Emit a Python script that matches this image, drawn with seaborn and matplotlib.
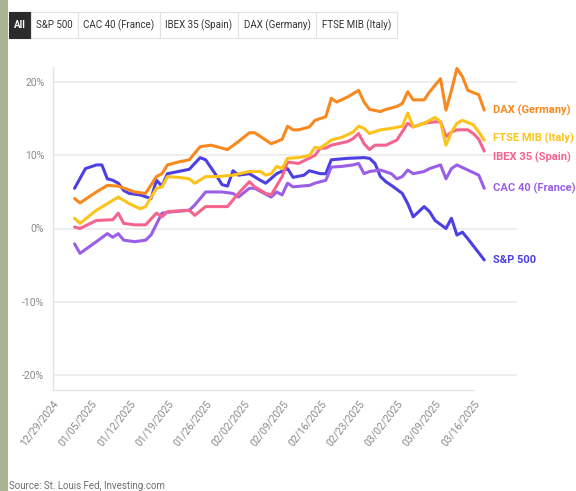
import numpy as np
import pandas as pd
import seaborn as sns
import matplotlib.pyplot as plt
import matplotlib.dates as mdates
from matplotlib.patches import Rectangle

# YTD change in % (dates are 2025, MM-DD)
sp500_dates = ['01-02', '01-04', '01-06', '01-07', '01-08', '01-09', '01-10', '01-11', '01-12', '01-14',
               '01-16', '01-17', '01-18', '01-19', '01-21', '01-23', '01-25', '01-26', '01-28', '01-29',
               '01-30', '01-31', '02-01', '02-03', '02-05', '02-06', '02-08', '02-10', '02-11', '02-13',
               '02-14', '02-16', '02-17', '02-18', '02-21', '02-24', '02-25', '02-26', '02-27', '02-28',
               '03-01', '03-03', '03-04', '03-05', '03-07', '03-08', '03-09', '03-11', '03-12', '03-13',
               '03-14', '03-15', '03-18']
sp500 = [5.5, 8.2, 8.7, 8.7, 6.8, 6.6, 6.2, 5.2, 4.8, 4.6,
         4.1, 6.6, 5.8, 7.5, 7.8, 8.1, 9.7, 9.4, 7.2, 6.0,
         5.8, 7.9, 7.3, 7.5, 6.6, 6.2, 7.5, 8.2, 7.0, 7.3,
         7.9, 7.5, 7.5, 9.4, 9.6, 9.7, 9.6, 8.9, 7.1, 6.4,
         5.9, 4.8, 3.4, 1.6, 3.0, 2.3, 1.1, 0.0, 1.4, -0.9,
         -0.5, -1.4, -4.3]

dax_dates = ['01-02', '01-03', '01-06', '01-08', '01-10', '01-13', '01-15', '01-17', '01-18', '01-19',
             '01-21', '01-23', '01-25', '01-27', '01-30', '02-01', '02-03', '02-04', '02-07', '02-09',
             '02-10', '02-11', '02-12', '02-14', '02-15', '02-17', '02-18', '02-19', '02-21', '02-23',
             '02-24', '02-25', '02-27', '02-28', '03-02', '03-03', '03-04', '03-05', '03-07', '03-08',
             '03-10', '03-11', '03-12', '03-13', '03-14', '03-15', '03-17', '03-18']
dax = [4.1, 3.5, 5.0, 5.9, 5.8, 5.0, 4.8, 7.1, 7.5, 8.7,
       9.1, 9.4, 11.2, 11.4, 10.8, 11.9, 13.1, 13.1, 11.6, 12.2,
       14.0, 13.5, 13.5, 13.9, 14.8, 15.3, 17.8, 17.3, 18.0, 18.9,
       17.3, 16.3, 16.0, 16.3, 16.7, 17.1, 18.7, 17.6, 17.6, 18.7,
       20.5, 16.2, 18.9, 21.9, 20.8, 18.9, 18.3, 16.2]

ftse_dates = ['01-02', '01-03', '01-06', '01-08', '01-10', '01-12', '01-14', '01-15', '01-17', '01-18',
              '01-19', '01-21', '01-23', '01-24', '01-26', '01-28', '01-31', '02-03', '02-05', '02-06',
              '02-07', '02-08', '02-09', '02-10', '02-12', '02-14', '02-15', '02-16', '02-18', '02-20',
              '02-22', '02-23', '02-24', '02-25', '02-27', '03-01', '03-03', '03-04', '03-05', '03-07',
              '03-09', '03-10', '03-11', '03-12', '03-13', '03-14', '03-16', '03-17', '03-18']
ftse = [1.4, 0.7, 2.5, 3.4, 4.3, 3.4, 2.7, 3.0, 5.5, 5.7,
        7.1, 7.0, 6.8, 6.2, 7.1, 7.1, 7.3, 7.8, 7.8, 7.3,
        7.5, 8.5, 8.2, 9.6, 9.7, 10.0, 11.1, 11.0, 12.1, 12.5,
        13.2, 14.0, 13.7, 13.0, 13.5, 13.7, 14.0, 15.8, 13.9, 14.4,
        15.2, 14.6, 11.4, 13.2, 14.4, 14.8, 14.2, 13.2, 12.1]

ibex_dates = ['01-02', '01-03', '01-06', '01-09', '01-10', '01-11', '01-13', '01-15', '01-17', '01-18',
              '01-19', '01-21', '01-23', '01-24', '01-26', '01-28', '01-30', '02-01', '02-03', '02-04',
              '02-06', '02-07', '02-09', '02-10', '02-12', '02-15', '02-16', '02-17', '02-18', '02-21',
              '02-22', '02-23', '02-24', '02-25', '02-26', '02-28', '03-02', '03-04', '03-05', '03-07',
              '03-09', '03-10', '03-11', '03-12', '03-13', '03-15', '03-16', '03-17', '03-18']
ibex = [0.2, 0.0, 1.1, 1.2, 2.1, 0.7, 0.5, 0.5, 2.1, 1.6,
        2.3, 2.4, 2.5, 1.8, 3.0, 3.0, 3.0, 4.8, 6.4, 5.7,
        4.8, 4.6, 7.1, 9.1, 8.9, 10.0, 11.0, 11.0, 11.4, 11.9,
        12.3, 13.0, 11.6, 10.8, 11.4, 11.4, 12.1, 14.4, 13.9, 14.4,
        14.6, 14.6, 12.6, 13.2, 13.5, 13.5, 13.0, 12.2, 10.6]

cac_dates = ['01-02', '01-03', '01-06', '01-08', '01-09', '01-10', '01-11', '01-13', '01-15', '01-16',
             '01-18', '01-20', '01-23', '01-24', '01-26', '01-29', '01-31', '02-01', '02-03', '02-04',
             '02-07', '02-08', '02-09', '02-10', '02-11', '02-14', '02-15', '02-17', '02-18', '02-20',
             '02-22', '02-23', '02-24', '02-25', '02-27', '03-01', '03-02', '03-03', '03-04', '03-05',
             '03-07', '03-08', '03-10', '03-11', '03-12', '03-13', '03-15', '03-17', '03-18']
cac = [-2.1, -3.4, -1.8, -0.7, -1.2, -0.7, -1.6, -1.8, -1.6, -0.9,
       2.1, 2.3, 2.5, 3.2, 5.0, 5.0, 4.8, 4.3, 5.5, 5.5,
       4.3, 5.0, 4.6, 6.2, 5.7, 5.9, 6.2, 6.6, 8.4, 8.5,
       8.7, 8.9, 7.5, 7.8, 8.0, 7.5, 6.8, 7.1, 8.0, 7.5,
       7.8, 8.2, 8.7, 6.8, 8.2, 8.7, 8.0, 7.3, 5.5]

names = ['S&P 500', 'CAC 40 (France)', 'IBEX 35 (Spain)', 'DAX (Germany)', 'FTSE MIB (Italy)']
colors = ['#4c3fe3', '#9b5ee6', '#f5648e', '#f7891f', '#fdc31a']

frames = []
for name, d, v in zip(names, [sp500_dates, cac_dates, ibex_dates, dax_dates, ftse_dates],
                      [sp500, cac, ibex, dax, ftse]):
    frames.append(pd.DataFrame({'date': pd.to_datetime(['2025-' + s for s in d]),
                                'pct': v, 'index': name}))
df = pd.concat(frames, ignore_index=True)

sns.set_style('white')
plt.rcParams['font.family'] = ['Liberation Sans Narrow', 'Roboto', 'DejaVu Sans']

W, H = 576, 491
fig = plt.figure(figsize=(W / 100, H / 100), dpi=100)
ax = fig.add_axes([52.7 / W, 1 - 390 / H, (517 - 52.7) / W, (390 - 67) / H])

sns.lineplot(data=df, x='date', y='pct', hue='index', hue_order=names,
             palette=dict(zip(names, colors)), linewidth=2.2, legend=False, ax=ax)

ax.set_xlim(pd.Timestamp('2024-12-29'), pd.Timestamp('2025-03-24'))
ax.set_ylim(-22.1, 22.1)
ax.set_yticks([-20, -10, 0, 10, 20])
ax.set_yticklabels([f'{t}%' for t in [-20, -10, 0, 10, 20]])
ticks = pd.date_range('2024-12-29', '2025-03-16', freq='7D')
ax.set_xticks(ticks)
ax.xaxis.set_major_formatter(mdates.DateFormatter('%m/%d/%Y'))
plt.setp(ax.get_xticklabels(), rotation=52, ha='right', rotation_mode='anchor')
ax.tick_params(axis='both', length=0, labelsize=7.5, colors='#8a8a8a')
ax.tick_params(axis='x', pad=6)
ax.tick_params(axis='y', pad=6)
ax.set_xlabel('')
ax.set_ylabel('')
ax.yaxis.grid(True, color='#ededed', linewidth=1.3)
ax.xaxis.grid(False)
for s in ['top', 'right']:
    ax.spines[s].set_visible(False)
for s in ['left', 'bottom']:
    ax.spines[s].set_color('#e4e4e4')
    ax.spines[s].set_linewidth(1.0)
ax.spines['bottom'].set_bounds(mdates.date2num(ticks[0]), mdates.date2num(ticks[-1]))

# end-of-line labels
nudges = {'S&P 500': 0, 'CAC 40 (France)': 0, 'IBEX 35 (Spain)': -4.5,
          'DAX (Germany)': 0, 'FTSE MIB (Italy)': 1.5}
for name, c in zip(names, colors):
    last = df[df['index'] == name].iloc[-1]
    ax.annotate(name, xy=(last['date'], last['pct']), xytext=(6, nudges[name]),
                textcoords='offset points', color=c, fontsize=8, fontweight='bold',
                va='center', ha='left', annotation_clip=False)

# button bar on top
edges = [9, 31, 78, 160, 238, 316, 397]
labels = ['All'] + names[:1] + ['CAC 40 (France)', 'IBEX 35 (Spain)', 'DAX (Germany)', 'FTSE MIB (Italy)']
for i, lab in enumerate(labels):
    x0, x1 = edges[i], edges[i + 1]
    active = i == 0
    fig.add_artist(Rectangle((x0 / W, 1 - 38 / H), (x1 - x0) / W, 26 / H,
                             transform=fig.transFigure,
                             facecolor='#2b2b2b' if active else 'white',
                             edgecolor='#2b2b2b' if active else '#e2e2e2', linewidth=0.8))
    fig.text((x0 + x1) / 2 / W, 1 - 25 / H, lab, ha='center', va='center',
             fontsize=7, color='white' if active else '#333333',
             fontweight='bold' if active else 'normal')

# green strip on the left edge
fig.add_artist(Rectangle((0, 0), 8 / W, 1, transform=fig.transFigure,
                         facecolor='#a9b493', edgecolor='none'))

fig.text(9 / W, 1 - 486 / H, 'Source: St. Louis Fed, Investing.com', fontsize=7,
         color='#6f6f6f', ha='left', va='center')

fig.savefig('out.png', dpi=100)
